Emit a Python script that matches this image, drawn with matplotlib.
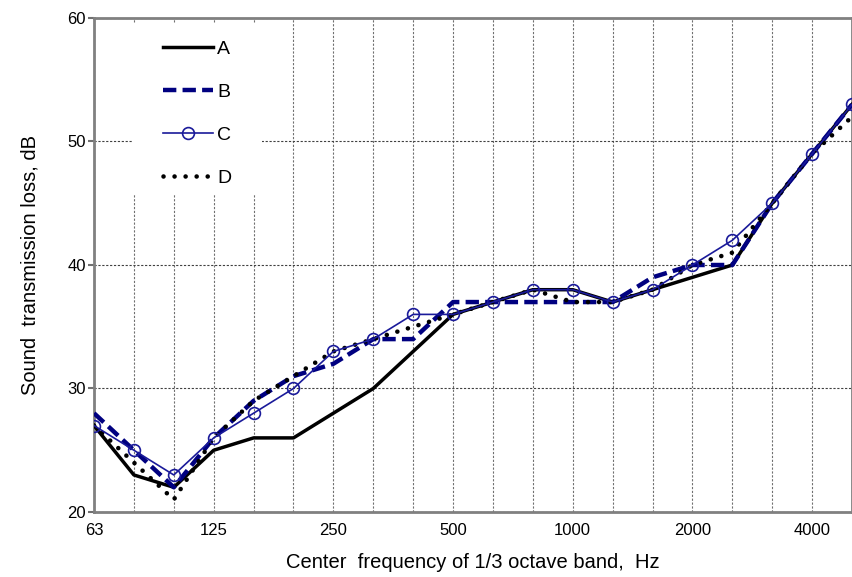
import numpy as np
import matplotlib
matplotlib.use('Agg')
import matplotlib.pyplot as plt
from matplotlib.patches import Rectangle

plt.rcParams['font.family'] = ['Liberation Sans', 'DejaVu Sans']

# 1/3 octave band centre frequencies, Hz
bands = ['63', '80', '100', '125', '160', '200', '250', '315', '400', '500',
         '630', '800', '1000', '1250', '1600', '2000', '2500', '3150', '4000', '5000']
tick_labels = ['63', '125', '250', '500', '1000', '2000', '4000']

A = [27, 23, 22, 25, 26, 26, 28, 30, 33, 36, 37, 38, 38, 37, 38, 39, 40, 45, 49, 53]
B = [28, 25, 22, 26, 29, 31, 32, 34, 34, 37, 37, 37, 37, 37, 39, 40, 40, 45, 49, 53]
C = [27, 25, 23, 26, 28, 30, 33, 34, 36, 36, 37, 38, 38, 37, 38, 40, 42, 45, 49, 53]
D = [27, 24, 21, 26, 29, 31, 33, 34, 35, 36, 37, 38, 37, 37, 38, 40, 41, 45, 49, 52]

x = np.arange(len(bands))

fig = plt.figure(figsize=(8.52, 5.77), dpi=100)
ax = fig.add_axes([94/852, 1-512/577, 1-94/852, (512-18)/577])

ax.plot(x, A, color='black', lw=2.5, label='A', zorder=3)
ax.plot(x, B, color='#000080', lw=3.2, ls=(0, (3.0, 1.4)), label='B', zorder=3)
ax.plot(x, C, color='#1a1a9a', lw=1.2, marker='o', ms=8.5, mfc='none',
        mec='#1a1a9a', mew=1.2, label='C', zorder=4)
ax.plot(x, D, color='black', lw=3.3, ls=(0, (0.01, 2.4)), dash_capstyle='round',
        label='D', zorder=3)

ax.set_xlim(0, 18.76)
ax.set_ylim(20, 60)
ax.set_yticks([20, 30, 40, 50, 60])
ax.set_xticks(x[::3])
ax.set_xticklabels(tick_labels)
ax.set_xticks(x, minor=True)

ax.grid(axis='x', which='both', color='#707070', lw=0.8, ls=(0, (2, 1.5)))
ax.grid(axis='y', which='major', color='#404040', lw=0.8, ls=(0, (2, 1.5)))
ax.set_axisbelow(True)

ax.tick_params(axis='x', which='both', length=0, labelsize=12, pad=8, colors='black')
ax.tick_params(axis='y', length=4, width=1.5, color='#707070', labelsize=12, pad=2)
for s in ax.spines.values():
    s.set_color('#808080')
    s.set_linewidth(2)

ax.set_xlabel('Center  frequency of 1/3 octave band,  Hz', fontsize=14.5, labelpad=11)
ax.set_ylabel('Sound  transmission loss, dB', fontsize=14.5, labelpad=20)

# white area behind the legend hides the grid there
ax.add_patch(Rectangle((0.0515, 0.642), 0.170, 0.348, transform=ax.transAxes,
                       facecolor='white', edgecolor='none', zorder=2.5))

leg = ax.legend(loc='upper left', bbox_to_anchor=(0.091, 0.955), frameon=False,
                fontsize=14, handlelength=2.55, handletextpad=0.25,
                labelspacing=1.3, borderpad=0, borderaxespad=0)
leg.set_zorder(5)

fig.savefig('out.png', dpi=100)
